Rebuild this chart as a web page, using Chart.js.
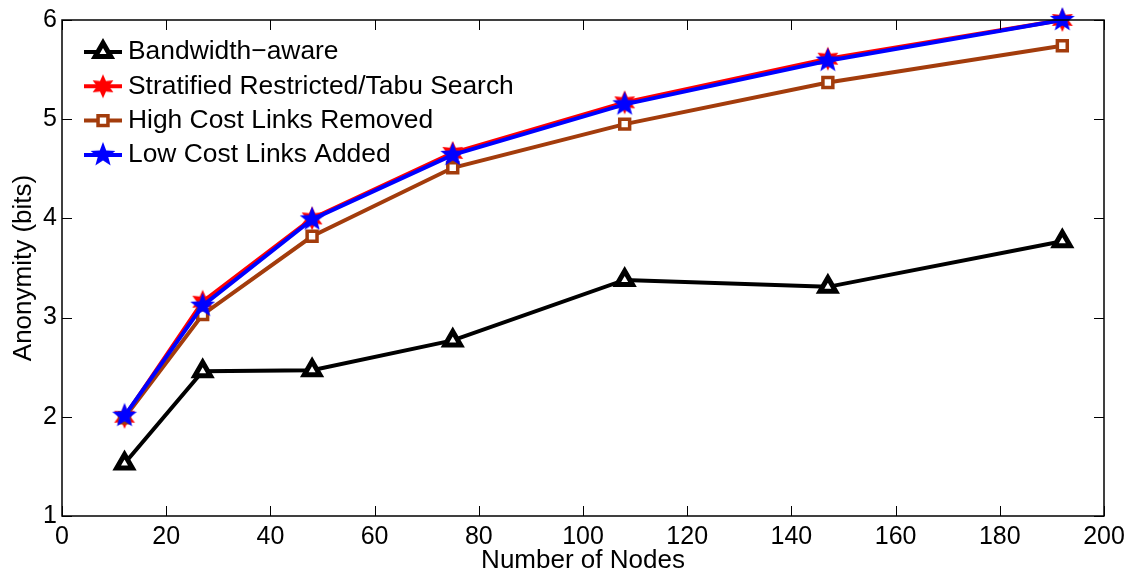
<!DOCTYPE html>
<html>
<head>
<meta charset="utf-8">
<script src="https://cdn.jsdelivr.net/npm/chart.js@4.4.1/dist/chart.umd.min.js"></script>
<style>
  html, body { margin: 0; padding: 0; background: #fff; }
  #wrap { width: 1135px; height: 579px; }
</style>
</head>
<body>
<div id="wrap"><canvas id="c" width="1135" height="579"></canvas></div>
<script>
	// number of nodes (x) and anonymity in bits for each method
	const nodes = [12, 27, 48, 75, 108, 147, 192];
	const bandwidthAware = [1.53, 2.46, 2.47, 2.77, 3.38, 3.31, 3.77];
	const stratified = [2.0, 3.16, 4.0, 4.66, 5.17, 5.61, 6.0];
	const highCostRemoved = [1.99, 3.03, 3.82, 4.51, 4.95, 5.37, 5.74];
	const lowCostAdded = [2.01, 3.12, 3.99, 4.64, 5.15, 5.59, 6.0];

	const xTicks = [0, 20, 40, 60, 80, 100, 120, 140, 160, 180, 200];
	const yTicks = [1, 2, 3, 4, 5, 6];

	const BROWN = '#a33c0c';
	const FONT = 'Liberation Sans, Arial, sans-serif';

	// filled star marker images (hexagram for red, pentagram for blue)
	function starImage(points, color, size, innerRatio) {
		const cv = document.createElement('canvas');
		cv.width = size; cv.height = size;
		const g = cv.getContext('2d');
		const r = size / 2 - 1, ri = r * innerRatio, c = size / 2;
		g.beginPath();
		for (let i = 0; i < points * 2; i++) {
			const rad = i % 2 === 0 ? r : ri;
			const a = -Math.PI / 2 + i * Math.PI / points;
			const px = c + rad * Math.cos(a), py = c + rad * Math.sin(a);
			if (i === 0) g.moveTo(px, py); else g.lineTo(px, py);
		}
		g.closePath();
		g.fillStyle = color;
		g.fill();
		return cv;
	}
	const redStar = starImage(6, '#ff0000', 26, 0.5);
	const blueStar = starImage(5, '#0000ff', 28, 0.42);

	const pts = ys => nodes.map((x, i) => ({ x, y: ys[i] }));

	const series = [
		{ label: 'Bandwidth\u2212aware', data: bandwidthAware, color: '#000000', style: 'triangle', radius: 9, bw: 5, order: 3 },
		{ label: 'Stratified Restricted/Tabu Search', data: stratified, color: '#ff0000', style: redStar, radius: 13, bw: 0, order: 2 },
		{ label: 'High Cost Links Removed', data: highCostRemoved, color: BROWN, style: 'rect', radius: 7, bw: 3.5, order: 1 },
		{ label: 'Low Cost Links Added', data: lowCostAdded, color: '#0000ff', style: blueStar, radius: 14, bw: 0, order: 0 }
	];

	// inside ticks on all four sides, frame, and legend
	const matlabAxes = {
		id: 'matlabAxes',
		afterDraw(chart) {
			const { ctx, chartArea: a, scales } = chart;
			ctx.save();
			ctx.strokeStyle = '#000';
			ctx.lineWidth = 1;
			ctx.beginPath();
			xTicks.forEach(v => {
				const px = Math.round(scales.x.getPixelForValue(v)) + 0.5;
				ctx.moveTo(px, a.bottom); ctx.lineTo(px, a.bottom - 10);
				ctx.moveTo(px, a.top); ctx.lineTo(px, a.top + 10);
			});
			yTicks.forEach(v => {
				const py = Math.round(scales.y.getPixelForValue(v)) + 0.5;
				ctx.moveTo(a.left, py); ctx.lineTo(a.left + 10, py);
				ctx.moveTo(a.right, py); ctx.lineTo(a.right - 10, py);
			});
			ctx.stroke();
			ctx.lineWidth = 1.5;
			ctx.strokeRect(a.left, a.top, a.right - a.left, a.bottom - a.top);

			// legend
			const x0 = a.left + 22, x1 = a.left + 60, xm = (x0 + x1) / 2;
			let y = a.top + 32;
			series.forEach(s => {
				ctx.strokeStyle = s.color;
				ctx.lineWidth = 4;
				ctx.beginPath(); ctx.moveTo(x0, y); ctx.lineTo(x1, y); ctx.stroke();
				if (typeof s.style === 'string') {
					ctx.fillStyle = '#fff';
					ctx.strokeStyle = s.color;
					ctx.lineWidth = s.bw;
					Chart.helpers.drawPoint(ctx, { pointStyle: s.style, radius: s.radius, rotation: 0, borderWidth: s.bw }, xm, y);
				} else {
					ctx.drawImage(s.style, xm - s.style.width / 2, y - s.style.height / 2);
				}
				ctx.fillStyle = '#000';
				ctx.font = '26.4px ' + FONT;
				ctx.textBaseline = 'middle';
				ctx.textAlign = 'left';
				ctx.fillText(s.label, x1 + 6, y);
				y += 34.3;
			});
			ctx.restore();
		}
	};

	new Chart(document.getElementById('c'), {
		type: 'line',
		data: {
			datasets: series.map(s => ({
				label: s.label,
				data: pts(s.data),
				borderColor: s.color,
				borderWidth: 4,
				backgroundColor: '#fff',
				pointStyle: s.style,
				pointRadius: s.radius,
				pointBorderWidth: s.bw,
				pointBorderColor: s.color,
				pointBackgroundColor: '#fff',
				tension: 0,
				clip: false,
				order: s.order
			}))
		},
		options: {
			responsive: false,
			animation: false,
			events: [],
			layout: { padding: { left: 0, top: 17, right: 31, bottom: 0 } },
			plugins: { legend: { display: false }, tooltip: { enabled: false } },
			scales: {
				x: {
					type: 'linear',
					min: 0, max: 200,
					afterBuildTicks: s => { s.ticks = xTicks.map(v => ({ value: v })); },
					afterFit: s => { s.height = 63; },
					grid: { display: false, drawTicks: false },
					border: { display: false },
					ticks: { color: '#000', font: { family: FONT, size: 25 }, padding: 6, maxRotation: 0 },
					title: { display: true, text: 'Number of Nodes', color: '#000', font: { family: FONT, size: 26 }, padding: { top: 0, bottom: 3 } }
				},
				y: {
					min: 1, max: 6,
					afterBuildTicks: s => { s.ticks = yTicks.map(v => ({ value: v })); },
					afterFit: s => { s.width = 62; },
					grid: { display: false, drawTicks: false },
					border: { display: false },
					ticks: { color: '#000', font: { family: FONT, size: 25 }, padding: 5 },
					title: { display: true, text: 'Anonymity (bits)', color: '#000', font: { family: FONT, size: 26 }, padding: { top: 8, bottom: 0 } }
				}
			}
		},
		plugins: [matlabAxes]
	});
</script>
</body>
</html>
